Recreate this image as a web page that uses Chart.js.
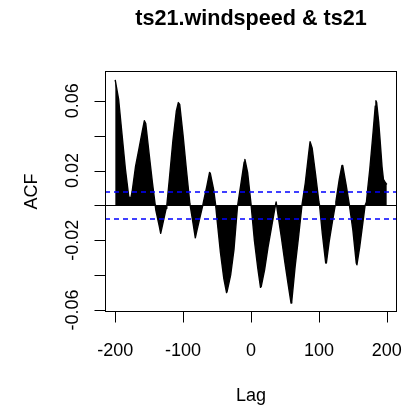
<!DOCTYPE html>
<html>
<head>
<meta charset="utf-8">
<title>ts21.windspeed & ts21</title>
<script src="https://cdn.jsdelivr.net/npm/chart.js@4/dist/chart.umd.min.js"></script>
<style>
    html, body { margin: 0; padding: 0; background: #fff; }
    canvas { display: block; }
</style>
</head>
<body>
<canvas id="ccfChart" width="406" height="412"></canvas>
<script>
// Cross-correlation by lag
const lags = [
    -200, -195, -190, -185, -180, -177, -175, -170, -165, -160, -157, -155, -150, -145, -141,
    -140, -135, -133, -130, -125, -124, -120, -115, -110, -107, -105, -100, -95, -90,
    -85, -82, -80, -75, -71, -70, -65, -61, -60, -55, -52,
    -50, -45, -40, -36, -35, -30, -25, -20, -15, -10, -9, -5, 0,
    5, 10, 14, 15, 20, 25, 30, 35, 37, 40, 45, 50, 55, 59, 60, 65, 70, 75,
    80, 85, 87, 88, 90, 95, 100, 101, 105, 110, 111, 115, 120, 124,
    125, 130, 134, 135, 140, 145, 150, 155, 156, 160, 165, 168, 169,
    170, 172, 175, 178, 180, 183, 184, 185, 188, 190, 193, 195, 198, 200
];
const acfValues = [
    0.072, 0.061, 0.041, 0.021, 0.005, 0.0042, 0.008, 0.0224, 0.0325, 0.0427, 0.0486, 0.047, 0.0294, 0.0126, 0.0,
    -0.003, -0.012, -0.016, -0.0107, -0.0018, 0.0, 0.016, 0.037, 0.054, 0.059, 0.058, 0.040, 0.020, 0.001,
    -0.011, -0.0186, -0.015, -0.0065, 0.0, 0.002, 0.011, 0.0189, 0.0185, 0.009, 0.0,
    -0.008, -0.027, -0.042, -0.050, -0.049, -0.040, -0.025, -0.001, 0.012, 0.025, 0.0264, 0.019, 0.001,
    -0.020, -0.036, -0.047, -0.0465, -0.037, -0.024, -0.013, -0.002, 0.002, -0.006, -0.019, -0.033, -0.046, -0.056, -0.055, -0.035, -0.018, 0.0,
    0.013, 0.030, 0.0365, 0.0365, 0.033, 0.018, 0.002, 0.0, -0.016, -0.033, -0.033, -0.021, -0.009, 0.0,
    0.002, 0.015, 0.023, 0.023, 0.012, 0.0, -0.014, -0.033, -0.034, -0.024, -0.009, 0.0, 0.0,
    0.002, 0.010, 0.021, 0.034, 0.043, 0.057, 0.060, 0.059, 0.048, 0.038, 0.022, 0.015, 0.013, 0.012
];

const xTicks = [-200, -100, 0, 100, 200];
const yTicks = [-0.06, -0.04, -0.02, 0, 0.02, 0.04, 0.06];
const yTickLabels = ["-0.06", "", "-0.02", "", "0.02", "", "0.06"];
const ciBound = 0.0077; // approx. 95% band

const FONT = "'Liberation Sans', Arial, sans-serif";

// R-style frame, axes, labels and reference lines
const rFramePlugin = {
    id: "rFrame",
    afterDatasetsDraw(chart) {
        const ctx = chart.ctx;
        const area = chart.chartArea;
        const xs = chart.scales.x;
        const ys = chart.scales.y;
        const tickLen = 11;

        ctx.save();

        // zero line
        const y0 = Math.round(ys.getPixelForValue(0)) + 0.5;
        ctx.strokeStyle = "#000";
        ctx.lineWidth = 1;
        ctx.beginPath();
        ctx.moveTo(area.left, y0);
        ctx.lineTo(area.right, y0);
        ctx.stroke();

        // confidence band
        ctx.strokeStyle = "#0000ff";
        ctx.lineWidth = 1.5;
        ctx.setLineDash([5, 4]);
        [ciBound, -ciBound].forEach(v => {
            const y = ys.getPixelForValue(v);
            ctx.beginPath();
            ctx.moveTo(area.left, y);
            ctx.lineTo(area.right, y);
            ctx.stroke();
        });
        ctx.setLineDash([]);
        ctx.lineWidth = 1;

        // box
        ctx.strokeStyle = "#000";
        ctx.strokeRect(area.left + 0.5, area.top + 0.5, area.right - area.left - 1, area.bottom - area.top - 1);

        // x axis
        const xb = area.bottom - 0.5;
        ctx.beginPath();
        ctx.moveTo(Math.round(xs.getPixelForValue(xTicks[0])) + 0.5, xb);
        ctx.lineTo(Math.round(xs.getPixelForValue(xTicks[xTicks.length - 1])) + 0.5, xb);
        xTicks.forEach(t => {
            const x = Math.round(xs.getPixelForValue(t)) + 0.5;
            ctx.moveTo(x, xb);
            ctx.lineTo(x, xb + tickLen);
        });
        ctx.stroke();

        ctx.fillStyle = "#000";
        ctx.font = "18px " + FONT;
        ctx.textAlign = "center";
        ctx.textBaseline = "alphabetic";
        xTicks.forEach(t => {
            ctx.fillText(String(t), xs.getPixelForValue(t), 356);
        });

        // y axis
        const yl = area.left + 0.5;
        ctx.beginPath();
        ctx.moveTo(yl, Math.round(ys.getPixelForValue(yTicks[0])) + 0.5);
        ctx.lineTo(yl, Math.round(ys.getPixelForValue(yTicks[yTicks.length - 1])) + 0.5);
        yTicks.forEach(t => {
            const y = Math.round(ys.getPixelForValue(t)) + 0.5;
            ctx.moveTo(yl, y);
            ctx.lineTo(yl - tickLen, y);
        });
        ctx.stroke();

        yTicks.forEach((t, i) => {
            if (!yTickLabels[i]) return;
            ctx.save();
            ctx.translate(78, ys.getPixelForValue(t));
            ctx.rotate(-Math.PI / 2);
            ctx.fillText(yTickLabels[i], 0, 0);
            ctx.restore();
        });

        // titles
        ctx.fillText("Lag", (area.left + area.right) / 2, 401);
        ctx.save();
        ctx.translate(37, (area.top + area.bottom) / 2);
        ctx.rotate(-Math.PI / 2);
        ctx.fillText("ACF", 0, 0);
        ctx.restore();

        ctx.font = "bold 21.6px " + FONT;
        ctx.fillText("ts21.windspeed & ts21", (area.left + area.right) / 2, 25);

        ctx.restore();
    }
};

const ctx = document.getElementById("ccfChart").getContext("2d");
new Chart(ctx, {
    type: "line",
    data: {
        datasets: [{
            label: "ACF",
            data: lags.map((lag, i) => ({ x: lag, y: acfValues[i] })),
            borderColor: "#000",
            backgroundColor: "#000",
            borderWidth: 1.4,
            borderJoinStyle: "round",
            fill: "origin",
            tension: 0,
            pointRadius: 0
        }]
    },
    options: {
        responsive: false,
        animation: false,
        layout: {
            padding: { left: 105, right: 9, top: 71, bottom: 100 }
        },
        scales: {
            x: { type: "linear", min: -215, max: 215, display: false },
            y: { min: -0.0611, max: 0.0771, display: false }
        },
        plugins: {
            legend: { display: false },
            tooltip: { enabled: false }
        }
    },
    plugins: [rFramePlugin]
});
</script>
</body>
</html>
